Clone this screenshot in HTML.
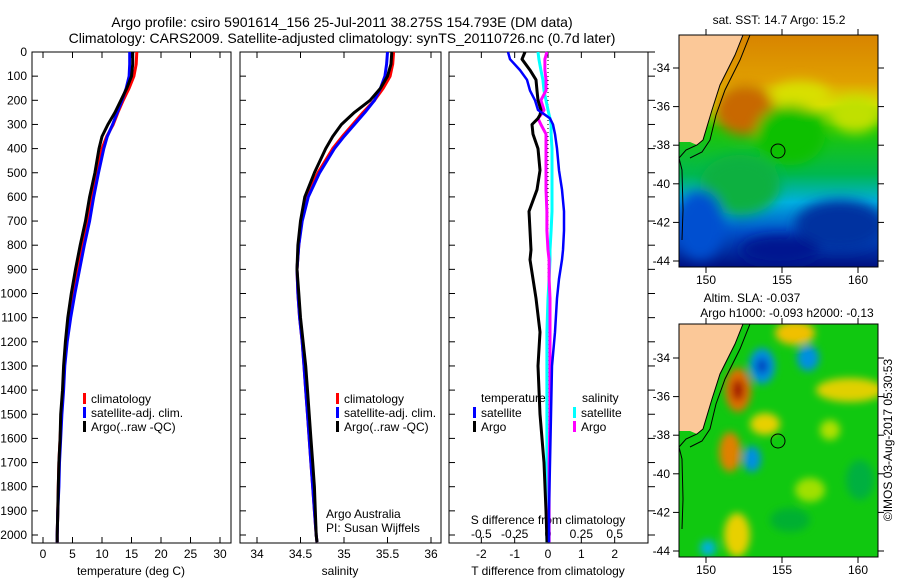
<!DOCTYPE html>
<html><head><meta charset="utf-8"><style>
body{margin:0;background:#fff;}
svg{display:block;font-family:"Liberation Sans",sans-serif;}
</style></head><body>
<svg id="fig" width="900" height="580" viewBox="0 0 900 580">
<defs>
<filter id="blur6" x="-20%" y="-20%" width="140%" height="140%"><feGaussianBlur stdDeviation="6"/></filter>
<filter id="blur4" x="-30%" y="-30%" width="160%" height="160%"><feGaussianBlur stdDeviation="4"/></filter>
<clipPath id="m1clip"><rect x="679" y="35" width="199" height="232"/></clipPath>
<clipPath id="m2clip"><rect x="679" y="324" width="199" height="233"/></clipPath>
<linearGradient id="sstg" x1="0" y1="0" x2="0" y2="1">
<stop offset="0" stop-color="#d88400"/><stop offset="0.2" stop-color="#e0a000"/><stop offset="0.3" stop-color="#d8e000"/><stop offset="0.4" stop-color="#20c800"/><stop offset="0.6" stop-color="#00b850"/><stop offset="0.72" stop-color="#00b0e0"/><stop offset="0.85" stop-color="#0050c8"/><stop offset="1" stop-color="#001080"/>
</linearGradient>
</defs>
<text x="342" y="27" font-size="14" text-anchor="middle">Argo profile: csiro 5901614_156 25-Jul-2011 38.275S 154.793E (DM data)</text>
<text x="342" y="43" font-size="14" text-anchor="middle">Climatology: CARS2009. Satellite-adjusted climatology: synTS_20110726.nc (0.7d later)</text>
<g id="p1"></g>
<g id="p2"></g>
<g id="p3"></g>

<g>
<text x="779" y="24" font-size="12" text-anchor="middle">sat. SST: 14.7 Argo: 15.2</text>
<g clip-path="url(#m1clip)">
<rect x="679" y="35" width="199" height="232" fill="url(#sstg)"/>
<g filter="url(#blur6)">
<ellipse cx="745" cy="110" rx="30" ry="25" fill="#c86800"/>
<ellipse cx="800" cy="95" rx="30" ry="14" fill="#d8e000"/>
<ellipse cx="855" cy="115" rx="25" ry="18" fill="#c0e000"/>
<ellipse cx="790" cy="135" rx="35" ry="30" fill="#10c000"/>
<ellipse cx="740" cy="185" rx="40" ry="30" fill="#10b040"/>
<ellipse cx="840" cy="225" rx="45" ry="25" fill="#0030a0"/>
<ellipse cx="700" cy="225" rx="25" ry="35" fill="#0050d0"/>
<ellipse cx="780" cy="250" rx="40" ry="15" fill="#001890"/>
</g>
<polygon points="679,35 743,35 735,55 720,85 712,110 706,130 703,140 697,145 690,142 679,142" fill="#fbc898"/>
<polyline points="743,35 735,55 720,85 712,110 706,130 703,140 697,145 686,150 679,158 682,170 683,210 682,240" fill="none" stroke="#000" stroke-width="1"/>
<polyline points="750,35 740,60 725,90 716,115 710,140 702,152 690,158" fill="none" stroke="#000" stroke-width="1"/>
</g>
<rect x="679" y="35" width="199" height="232" fill="none" stroke="#000" stroke-width="1"/>
<circle cx="778" cy="151" r="7" fill="none" stroke="#000" stroke-width="1"/>
</g>

<g>
<text x="752" y="302" font-size="12" text-anchor="middle">Altim. SLA: -0.037</text>
<text x="787" y="317" font-size="12" text-anchor="middle">Argo h1000: -0.093 h2000: -0.13</text>
<g clip-path="url(#m2clip)">
<rect x="679" y="324" width="199" height="233" fill="#10c810"/>
<g filter="url(#blur4)">
<ellipse cx="738" cy="390" rx="13" ry="22" fill="#e07000"/>
<ellipse cx="738" cy="390" rx="6" ry="11" fill="#a01000"/>
<ellipse cx="762" cy="366" rx="13" ry="18" fill="#0090e0"/>
<ellipse cx="762" cy="366" rx="6" ry="8" fill="#0040c0"/>
<ellipse cx="808" cy="358" rx="11" ry="13" fill="#0090e0"/>
<ellipse cx="795" cy="333" rx="20" ry="12" fill="#f0c000"/>
<ellipse cx="850" cy="390" rx="34" ry="12" fill="#e0d000"/>
<ellipse cx="765" cy="424" rx="15" ry="11" fill="#e8d000"/>
<ellipse cx="730" cy="452" rx="11" ry="20" fill="#e08000"/>
<ellipse cx="752" cy="459" rx="9" ry="13" fill="#0090e0"/>
<ellipse cx="737" cy="535" rx="13" ry="22" fill="#e8d000"/>
<ellipse cx="708" cy="548" rx="8" ry="8" fill="#00b0e0"/>
<ellipse cx="830" cy="430" rx="10" ry="10" fill="#b0e000"/>
<ellipse cx="810" cy="490" rx="15" ry="12" fill="#a0e000"/>
<ellipse cx="860" cy="480" rx="14" ry="20" fill="#00b040"/>
<ellipse cx="790" cy="520" rx="20" ry="12" fill="#00b030"/>
</g>
<polygon points="679,324 743,324 735,344 720,374 712,399 706,419 703,429 697,434 690,431 679,431" fill="#fbc898"/>
<polyline points="743,324 735,344 720,374 712,399 706,419 703,429 697,434 686,439 679,447 682,459 683,499 682,529" fill="none" stroke="#000" stroke-width="1"/>
<polyline points="750,324 740,349 725,379 716,404 710,429 702,441 690,447" fill="none" stroke="#000" stroke-width="1"/>
</g>
<rect x="679" y="324" width="199" height="233" fill="none" stroke="#000" stroke-width="1"/>
<circle cx="778" cy="441" r="7" fill="none" stroke="#000" stroke-width="1"/>
</g>
<text transform="translate(892,440) rotate(-90)" font-size="12" text-anchor="middle">©IMOS 03-Aug-2017 05:30:53</text>
<g id="mapaxes"></g>
</svg>
<script>
const depthsTS = [0,50,100,150,200,250,300,350,400,500,600,700,800,900,1000,1100,1200,1300,1400,1500,1600,1700,1800,1900,2000,2030];
const tempClim = [15.9,15.8,15.4,14.6,13.6,12.7,11.9,10.8,10.0,9.1,8.3,7.6,6.7,5.9,5.2,4.5,4.0,3.6,3.4,3.1,2.9,2.7,2.6,2.5,2.4,2.4];
const tempSat  = [14.7,14.7,14.6,14.1,13.4,12.6,11.8,10.9,10.3,9.4,8.6,7.9,7.0,6.2,5.4,4.7,4.1,3.7,3.5,3.2,3.0,2.8,2.7,2.5,2.4,2.4];
const tempArgo = [15.2,15.2,15.0,14.2,13.2,12.2,11.0,10.0,9.5,8.8,7.9,7.2,6.3,5.5,4.8,4.2,3.8,3.5,3.3,3.0,2.9,2.7,2.6,2.5,2.4,2.4];
const salClim  = [35.57,35.56,35.53,35.45,35.35,35.22,35.1,34.98,34.87,34.7,34.57,34.51,34.48,34.46,34.47,34.49,34.52,34.54,34.56,34.58,34.6,34.62,34.64,34.66,34.68,34.69];
const salSat   = [35.5,35.49,35.47,35.42,35.35,35.24,35.12,35.0,34.89,34.72,34.59,34.52,34.48,34.46,34.47,34.49,34.52,34.54,34.56,34.58,34.6,34.62,34.64,34.66,34.68,34.69];
const salArgo  = [35.55,35.54,35.5,35.42,35.3,35.12,34.97,34.87,34.79,34.66,34.55,34.5,34.47,34.46,34.48,34.5,34.53,34.56,34.58,34.6,34.62,34.64,34.66,34.67,34.68,34.69];
const depthsDiff = [0,30,75,115,160,200,240,260,275,300,340,400,490,570,660,740,820,860,940,1020,1160,1300,1500,1700,1900,2030];
const tDiffSat  = [-1.2,-1.14,-0.84,-0.63,-0.54,-0.39,-0.3,-0.09,0.06,0.15,0.21,0.27,0.33,0.42,0.48,0.48,0.45,0.42,0.33,0.27,0.21,0.12,0.09,0.06,0.03,0.03];
const tDiffArgo = [-0.69,-0.78,-0.54,-0.36,-0.33,-0.3,-0.21,-0.24,-0.3,-0.48,-0.45,-0.3,-0.24,-0.33,-0.57,-0.54,-0.51,-0.54,-0.45,-0.36,-0.24,-0.3,-0.24,-0.12,-0.06,-0.03];
const sDiffSat  = [-0.075,-0.068,-0.053,-0.038,-0.03,-0.015,0,0.008,0.015,0.023,0.023,0.03,0.03,0.03,0.03,0.023,0.015,0.015,0.008,0,-0.008,-0.008,-0.008,-0.008,-0.008,-0.008];
const sDiffArgo = [-0.008,-0.023,-0.023,-0.015,-0.015,-0.053,-0.03,-0.053,-0.075,-0.053,-0.015,-0.015,-0.015,-0.015,-0.008,-0.008,0,0.008,0.008,0.015,0.015,0.015,0.015,0.008,0.008,0.008];
const depthTicks = [0,100,200,300,400,500,600,700,800,900,1000,1100,1200,1300,1400,1500,1600,1700,1800,1900,2000];
const tempTicks = [0,5,10,15,20,25,30];
const salTicks = [34,34.5,35,35.5,36];
const salTickLabels = ["34","34.5","35","35.5","36"];
const tDiffTicks = [-2,-1,0,1,2];
const sDiffTicks = [-0.5,-0.25,0,0.25,0.5];
const sDiffTickLabels = ["-0.5","-0.25","0","0.25","0.5"];
const latTicks = [-34,-36,-38,-40,-42,-44];
const lonTicks = [150,155,160];

const NS="http://www.w3.org/2000/svg";
function mk(parent,tag,attrs,txt){const e=document.createElementNS(NS,tag);for(const k in attrs)e.setAttribute(k,attrs[k]);if(txt!==undefined)e.textContent=txt;parent.appendChild(e);return e;}
const Y0=52, Y1=543;
const yD = d => Y0 + d*0.2415;
function lin(d0,d1,p0,p1){return v=>p0+(v-d0)*(p1-p0)/(d1-d0);}

function frame(g,x0,x1){
  const r=mk(g,'rect',{x:x0,y:Y0,width:x1-x0,height:Y1-Y0,fill:'none',stroke:'#000','stroke-width':1});
  
  
  depthTicks.forEach(d=>{mk(g,'line',{x1:x0,x2:x0+6,y1:yD(d),y2:yD(d),stroke:'#000'});});
}
function profLine(g,xs,ds,xf,color,w,name){
  const pts=xs.map((v,i)=>xf(v).toFixed(1)+','+yD(ds[i]).toFixed(1));
  const p=mk(g,'polyline',{points:pts.join(' '),fill:'none',stroke:color,'stroke-width':w,'stroke-linejoin':'round'});
  
  
}
function legend(g,x,y,color,label,name){
  mk(g,'rect',{x:x,y:y-9,width:3,height:11,fill:color});
  const t=mk(g,'text',{x:x+8,y:y+1,'font-size':12},label);
  
  
}
const p1=document.getElementById('p1');
const xT=lin(0,30,43,220);
frame(p1,32,231);
depthTicks.forEach(d=>{const t=mk(p1,'text',{x:27,y:yD(d)+4,'font-size':12,'text-anchor':'end'},String(d));
 
 });
tempTicks.forEach(v=>{mk(p1,'line',{x1:xT(v),x2:xT(v),y1:Y1,y2:Y1-6,stroke:'#000'});mk(p1,'line',{x1:xT(v),x2:xT(v),y1:Y0,y2:Y0+6,stroke:'#000'});
 const t=mk(p1,'text',{x:xT(v),y:558,'font-size':12,'text-anchor':'middle'},String(v));
 
 });
const a1=mk(p1,'text',{x:131,y:575,'font-size':12,'text-anchor':'middle'},'temperature (deg C)');


profLine(p1,tempClim,depthsTS,xT,'#f00',3,'temperature-climatology-line');
profLine(p1,tempSat,depthsTS,xT,'#00f',3,'temperature-satellite-line');
profLine(p1,tempArgo,depthsTS,xT,'#000',3,'temperature-argo-line');
legend(p1,83,402,'#f00','climatology','legend-climatology');
legend(p1,83,416,'#00f','satellite-adj. clim.','legend-satellite');
legend(p1,83,430,'#000','Argo(..raw -QC)','legend-argo');
const p2=document.getElementById('p2');
const xS=lin(34,36,257,431);
frame(p2,240,441);
salTicks.forEach((v,i)=>{mk(p2,'line',{x1:xS(v),x2:xS(v),y1:Y1,y2:Y1-6,stroke:'#000'});mk(p2,'line',{x1:xS(v),x2:xS(v),y1:Y0,y2:Y0+6,stroke:'#000'});
 const t=mk(p2,'text',{x:xS(v),y:558,'font-size':12,'text-anchor':'middle'},salTickLabels[i]);
 
 });
const a2=mk(p2,'text',{x:340,y:575,'font-size':12,'text-anchor':'middle'},'salinity');


profLine(p2,salClim,depthsTS,xS,'#f00',3,'salinity-climatology-line');
profLine(p2,salSat,depthsTS,xS,'#00f',3,'salinity-satellite-line');
profLine(p2,salArgo,depthsTS,xS,'#000',3,'salinity-argo-line');
legend(p2,336,402,'#f00','climatology','legend-climatology');
legend(p2,336,416,'#00f','satellite-adj. clim.','legend-satellite');
legend(p2,336,430,'#000','Argo(..raw -QC)','legend-argo');
const c1=mk(p2,'text',{x:326,y:518,'font-size':12},'Argo Australia');


const c2=mk(p2,'text',{x:326,y:532,'font-size':12},'PI: Susan Wijffels');


const p3=document.getElementById('p3');
const xTd=lin(-3,3,448,648);
const xSd=lin(-0.75,0.75,448,648);
frame(p3,449,648);
depthTicks.forEach(d=>{mk(p3,'line',{x1:648,x2:655,y1:yD(d),y2:yD(d),stroke:'#000'});});
tDiffTicks.forEach(v=>{mk(p3,'line',{x1:xTd(v),x2:xTd(v),y1:Y1,y2:Y1-6,stroke:'#000'});mk(p3,'line',{x1:xTd(v),x2:xTd(v),y1:Y0,y2:Y0+6,stroke:'#000'});
 const t=mk(p3,'text',{x:xTd(v),y:558,'font-size':12,'text-anchor':'middle'},String(v));
 
 });
sDiffTicks.forEach((v,i)=>{
 const t=mk(p3,'text',{x:xSd(v),y:538,'font-size':12,'text-anchor':'middle'},sDiffTickLabels[i]);
 
 });
const a3=mk(p3,'text',{x:548,y:575,'font-size':12,'text-anchor':'middle'},'T difference from climatology');


const a4=mk(p3,'text',{x:548,y:524,'font-size':12,'text-anchor':'middle'},'S difference from climatology');


mk(p3,'line',{x1:xTd(0),x2:xTd(0),y1:Y0,y2:Y1,stroke:'#000','stroke-dasharray':'1,3'});
profLine(p3,sDiffSat,depthsDiff,xSd,'#0ff',3,'salinity-diff-satellite-line');
profLine(p3,sDiffArgo,depthsDiff,xSd,'#f0f',3,'salinity-diff-argo-line');
profLine(p3,tDiffArgo,depthsDiff,xTd,'#000',3,'temperature-diff-argo-line');
profLine(p3,tDiffSat,depthsDiff,xTd,'#00f',2.5,'temperature-diff-satellite-line');
const lt=mk(p3,'text',{x:481,y:402,'font-size':12},'temperature');


const ls=mk(p3,'text',{x:582,y:402,'font-size':12},'salinity');


legend(p3,473,416,'#00f','satellite','legend-t-satellite');
legend(p3,473,430,'#000','Argo','legend-t-argo');
legend(p3,573,416,'#0ff','satellite','legend-s-satellite');
legend(p3,573,430,'#f0f','Argo','legend-s-argo');
const ma=document.getElementById('mapaxes');
const lonX=lin(150,160,706,858);
[[35,267,lin(-34,-44,68,261)],[324,557,lin(-34,-44,358,551)]].forEach(([t,b,latY])=>{
 latTicks.forEach(v=>{const y=latY(v);mk(ma,'line',{x1:673,x2:679,y1:y,y2:y,stroke:'#000'});mk(ma,'line',{x1:878,x2:884,y1:y,y2:y,stroke:'#000'});
  const e=mk(ma,'text',{x:670,y:y+4,'font-size':12,'text-anchor':'end'},String(v));
  
  });
 lonTicks.forEach(v=>{const x=lonX(v);mk(ma,'line',{x1:x,x2:x,y1:b,y2:b+6,stroke:'#000'});mk(ma,'line',{x1:x,x2:x,y1:t-6,y2:t,stroke:'#000'});
  const e=mk(ma,'text',{x:x,y:b+17,'font-size':12,'text-anchor':'middle'},String(v));
  
  });
});
</script>
</body></html>
